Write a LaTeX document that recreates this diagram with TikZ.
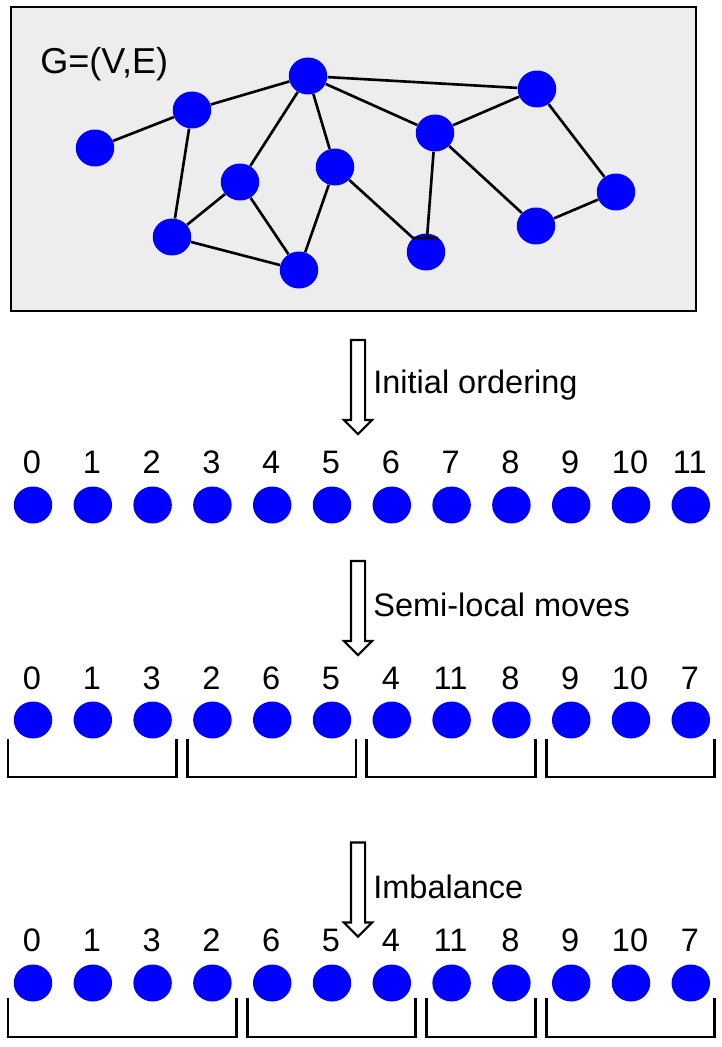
\documentclass[tikz,border=0pt]{standalone}
\usepackage{fontspec}
\setmainfont{Liberation Sans}
\usetikzlibrary{shapes.geometric,shapes.arrows}
\tikzset{
  vtx/.style={ellipse,fill=blue,minimum width=0.77cm,minimum height=0.74cm,inner sep=0pt},
  lbl/.style={font=\fontsize{18.5}{20}\selectfont,inner sep=0pt},
  link/.style={line width=1.5pt},
  bracket/.style={line width=1.6pt},
  bigarrow/.style={single arrow,draw,line width=1.2pt,fill=white,shape border rotate=270,
    inner sep=0.12cm,minimum height=1.88cm,single arrow head extend=0.14cm,single arrow tip angle=90}
}
\begin{document}
\begin{tikzpicture}[x=0.02cm,y=-0.02cm]
\useasboundingbox (0,0) rectangle (722,1047);
% the graph
\draw[line width=1.2pt,fill=black!7] (11,7) rectangle (696,311);
\node[lbl,font=\fontsize{20.5}{22}\selectfont,anchor=west] (gname) at (40,64) {G=(V,E)};
\node[vtx] (n1) at (95,148) {};
\node[vtx] (n2) at (192,110) {};
\node[vtx] (n3) at (308,76) {};
\node[vtx] (n4) at (537,89) {};
\node[vtx] (n5) at (435,133) {};
\node[vtx] (n6) at (240,182) {};
\node[vtx] (n7) at (335,167) {};
\node[vtx] (n8) at (616,192) {};
\node[vtx] (n9) at (172,237) {};
\node[vtx] (n10) at (299,270) {};
\node[vtx] (n11) at (426,252) {};
\node[vtx] (n12) at (536,226) {};
\foreach \a/\b in {n1/n2,n2/n3,n2/n9,n3/n4,n3/n6,n3/n7,n3/n5,n5/n4,n5/n12,n4/n8,n8/n12,n6/n9,n6/n10,n9/n10,n7/n10}
  \draw[link] (\a) -- (\b);
\coordinate (barl) at (413,238);
\coordinate (barm) at (427,238);
\coordinate (barr) at (438,238);
\draw[link] (n7) -- (barl) -- (barr);
\draw[link] (n5) -- (barm);
% step 1
\node[bigarrow] (arr1) at (358,383.5) {};
\node[lbl,anchor=west] (step1) at (373,385) {Initial ordering};
\foreach \i in {0,...,11} {
  \node[vtx] (a\i) at ({33+59.8*\i},505) {};
  \node[lbl] (ta\i) at ({32+59.8*\i},462) {\i};
}
% step 2
\node[bigarrow] (arr2) at (358,604.5) {};
\node[lbl,anchor=west] (step2) at (373,605) {Semi-local moves};
\foreach \l [count=\i from 0] in {0,1,3,2,6,5,4,11,8,9,10,7} {
  \node[vtx] (b\i) at ({33+59.8*\i},720) {};
  \node[lbl] (tb\i) at ({32+59.8*\i},678) {\l};
}
\foreach \p/\q in {0/2,3/5,6/8,9/11}
  \draw[bracket] ({33+59.8*\p-25},739) -- ++(0,38) -- ({33+59.8*\q+24},777) -- ++(0,-38);
% step 3
\node[bigarrow] (arr3) at (358,886) {};
\node[lbl,anchor=west] (step3) at (373,887) {Imbalance};
\foreach \l [count=\i from 0] in {0,1,3,2,6,5,4,11,8,9,10,7} {
  \node[vtx] (c\i) at ({33+59.8*\i},983) {};
  \node[lbl] (tc\i) at ({32+59.8*\i},940) {\l};
}
\foreach \p/\q in {0/3,4/6,7/8,9/11}
  \draw[bracket] ({33+59.8*\p-25},998) -- ++(0,39) -- ({33+59.8*\q+24},1037) -- ++(0,-39);
\end{tikzpicture}
\end{document}
